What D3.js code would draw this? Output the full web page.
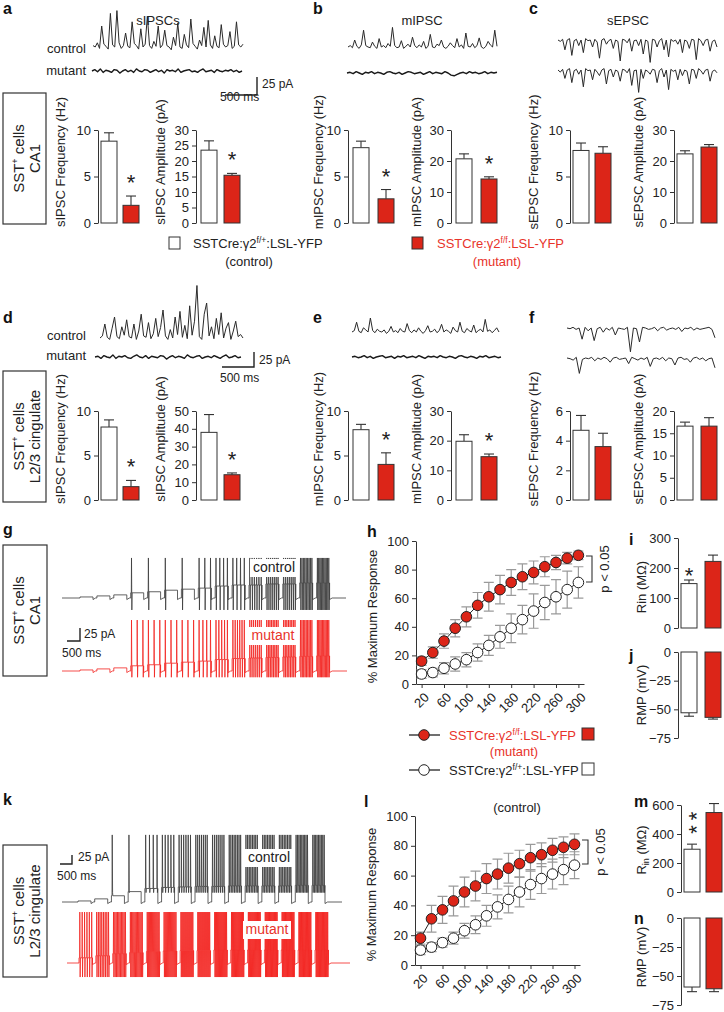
<!DOCTYPE html>
<html><head><meta charset="utf-8">
<script src="https://cdn.jsdelivr.net/npm/d3@7"></script>
<style>
body{margin:0;background:#fff;}
svg{display:block;font-family:"Liberation Sans",Arial,sans-serif;}
</style></head><body>
<svg id="fig" width="724" height="1012"></svg>
<script>
// ---------------- DATA ----------------
const barMeasures = ["sIPSC Frequency (Hz)","sIPSC Amplitude (pA)","mIPSC Frequency (Hz)","mIPSC Amplitude (pA)","sEPSC Frequency (Hz)","sEPSC Amplitude (pA)"];
const ca1Control    = [8.8, 23.5, 8.1, 20.7, 7.8, 22.3];
const ca1ControlErr = [0.9, 3.0, 0.7, 1.6, 0.8, 1.0];
const ca1Mutant     = [1.9, 15.4, 2.6, 14.2, 7.5, 24.5];
const ca1MutantErr  = [1.0, 0.6, 1.0, 0.7, 0.7, 0.8];
const ca1Sig        = [true, true, true, true, false, false];
const ca1Ticks = [[0,5,10],[0,5,10,15,20,25,30],[0,5,10],[0,10,20,30],[0,5,10],[0,10,20,30]];

const cingControl    = [8.2, 38, 7.9, 19.8, 4.7, 16.6];
const cingControlErr = [0.8, 10, 0.6, 2.2, 1.0, 0.9];
const cingMutant     = [1.5, 14.2, 4.0, 14.6, 3.6, 16.6];
const cingMutantErr  = [0.7, 1.0, 1.3, 0.9, 0.9, 1.9];
const cingSig        = [true, true, true, true, false, false];
const cingTicks = [[0,5,10],[0,10,20,30,40,50],[0,5,10],[0,10,20,30],[0,2,4,6],[0,5,10,15,20]];

const currentSteps = [20,40,60,80,100,120,140,160,180,200,220,240,260,280,300];
const stepTickLabels = [20,60,100,140,180,220,260,300];
const respTicks = [0,20,40,60,80,100];

const ca1RespMutant     = [16,22,30,39,47,55,61,66,71,75,78,82,85,88,90];
const ca1RespMutantErr  = [3,4,5,6,7,9,10,10,9,9,8,7,5,4,3];
const ca1RespControl    = [7,8,11,14,17,22,27,33,39,45,51,57,61,66,71];
const ca1RespControlErr = [3,3,4,5,5,6,7,8,10,10,12,12,12,13,11];

const cingRespMutant     = [18,31,37,43,49,53,58,61,65,68,72,74,77,79,81];
const cingRespMutantErr  = [4,9,9,10,10,10,10,10,10,9,9,8,8,7,7];
const cingRespControl    = [10,12,15,18,23,27,33,39,44,49,54,58,61,64,67];
const cingRespControlErr = [3,3,3,4,5,6,7,8,9,10,10,10,10,10,9];

const rinCa1 = [148, 222],   rinCa1Err = [12, 21],   rinTicksCa1 = [0,100,200,300];
const rmpCa1 = [-53, -57],   rmpCa1Err = [3, 1.5];
const rinCing = [295, 548],  rinCingErr = [35, 62],  rinTicksCing = [0,200,400,600];
const rmpCing = [-59.5, -61], rmpCingErr = [4, 2.5];
const rmpTicks = [0,-25,-50,-75];

// spontaneous current traces (pA, sampled)
const sipscCa1Ctrl = [2,0,6,-2,30,4,1,-3,48,3,0,52,6,-2,2,20,1,-1,36,5,2,-3,26,0,4,44,2,-2,8,1,30,-1,3,24,2,0,-4,14,2,34,0,-2,18,3,-1,40,5,1,-3,10,2,28,0,38,3,-2,16,1,-1,32,4,0,2,22,-2,1,36,3,0,4];
const sipscCa1Mut  = [0,2,-1,3,-2,1,0,-2,2,1,-3,0,2,-1,1,-2,3,0,-1,2,1,-2,0,2,-1,1,-3,2,0,1,-1,3,-2,0,1,2,-1,0,-2,1,3,-1,0,1,-2,2,0,-1,1,0,2,-1,1,-2,0];
const mipscCa1Ctrl = [0,2,-1,10,1,-2,3,24,2,0,-1,7,1,-2,12,0,2,-1,5,1,28,2,-1,0,9,-2,1,4,0,14,2,-1,3,0,8,-2,1,18,0,-1,4,2,10,0,-2,1,6,2,-1,12,0,3,-2,20,1,0,5,-1,2,13,0,-2,1,8,3,0,24,1];
const mipscCa1Mut  = [0,1,-1,2,0,-2,1,0,2,-1,1,0,-2,1,2,0,-1,1,-2,0,2,1,-1,0,1,-2,0,2,-1,1,0,-1,2,0,-3,-4,-2,0,1,-1,2,0,1,-1,0,2,-1,1,0,1];
const sepscCa1Ctrl = [0,-2,1,-14,0,2,-22,-1,1,-8,0,-18,2,-1,0,-10,1,-3,-26,0,2,-6,-1,1,-12,0,-2,-30,1,0,-4,2,-16,-1,0,-8,1,-20,0,-2,-32,1,0,-10,-1,2,-14,0,-24,1,-2,0,-6,1,-18,0,-2,-12,1,0,-28,2,-1,-8,0,1,-16,-2,0,-10];
const sepscCa1Mut  = [0,-3,1,-12,0,2,-18,-1,1,-6,0,-24,2,-1,0,-14,1,-3,-8,0,2,-20,-1,1,-10,0,-2,-16,1,0,-4,2,-22,-1,0,-32,1,-12,0,-2,-6,1,0,-18,-1,2,-10,0,-28,1,-2,0,-14,1,-8,0,-2,-20,1,0,-12,2,-1,-6,0,1,-16,-2,0,-4];
const sipscCingCtrl = [0,3,20,1,-2,14,30,2,-1,16,4,26,2,0,20,-2,10,34,3,1,22,-1,6,28,2,15,40,3,-2,12,0,30,5,38,1,18,-1,46,4,24,75,2,-2,34,50,3,16,-1,28,5,36,0,14,22,-2,10,24,2,5,0];
const sipscCingMut  = [0,1,-2,2,0,-1,3,-2,1,0,2,-1,-2,1,3,0,-1,2,-2,1,0,-1,2,1,-3,0,2,-1,1,0,-2,3,0,-1,1,2,-2,0,1,-1,2,0,-2,1,3,-1,0,2,-1,0];
const mipscCingCtrl = [0,2,14,1,-1,6,3,0,20,2,-1,4,1,0,3,-2,1,8,0,2,-1,5,1,0,12,2,-1,3,0,6,1,-2,2,9,0,1,4,-1,2,11,0,3,1,-2,7,2,0,14,1,-1,5,2,0,10,-1,2,4,0,18,1,3,-1,2,6,0];
const mipscCingMut  = [0,1,-1,0,2,-1,1,-2,0,1,2,-1,0,1,-2,1,0,2,-1,0,1,-1,2,0,-2,1,0,1,-1,2,0,-1,1,0,-2,1,2,0,-1,1,0,-2,1,0,2,-1,0,1,-1,0];
const sepscCingCtrl = [0,-1,1,-2,0,-16,1,-4,0,-18,-1,1,-6,0,-3,1,-10,0,-1,-2,1,-34,0,-1,-20,1,0,-2,-1,1,-4,0,1,-3,-1,0,-2,1,-5,0,-1,1,-3,0,-2,-1,0,1,-2,-14];
const sepscCingMut  = [0,-1,-3,1,-22,-2,0,-1,1,-4,0,-2,1,-1,-6,0,1,-2,-1,0,-8,1,-1,-3,0,-2,1,-12,-1,0,-2,1,-4,0,-1,-10,0,1,-2,-1,-6,0,1,-2,0,-4,-1,0,-14];

// current-step firing traces: plateau (pA units) and spike counts per step
const gCtrlPlateau = [2,4,6,10,12,15,17,19,23,25,25,27,27,29,29];
const gCtrlSpikes  = [0,0,0,1,1,1,1,3,4,4,6,7,7,9,10];
const gMutPlateau  = [2,4,6,10,12,15,17,19,22,24,25,26,27,28,29];
const gMutSpikes   = [0,0,0,3,3,3,3,4,5,6,7,8,8,9,10];
const kCtrlPlateau = [2,6,12,20,26,28,29,30,30,31,31,31,31,32,32];
const kCtrlSpikes  = [0,0,1,1,4,5,6,7,7,8,8,8,8,9,9];
const kMutPlateau  = [10,14,18,20,22,23,24,24,25,25,25,25,25,25,25];
const kMutSpikes   = [6,8,10,11,12,12,13,13,14,14,14,15,15,15,15];

// ---------------- DRAWING ----------------
const svg = d3.select("#fig");
const RED = "#dc2518", RED_TXT = "#e8332a", TRACE_RED = "#f2221e", INK = "#222";

function text(x, y, s, o = {}) {
  const t = svg.append("text").attr("x", x).attr("y", y).text(s)
    .attr("font-size", o.size || 13).attr("fill", o.fill || INK)
    .attr("text-anchor", o.anchor || "start");
  if (o.weight) t.attr("font-weight", o.weight);
  return t;
}
function rtext(x, y, s, o = {}) {
  const t = svg.append("text").attr("transform", `translate(${x},${y}) rotate(${o.rot || -90})`)
    .attr("text-anchor", "middle").attr("dy", o.dy || "0.35em")
    .attr("font-size", o.size || 13).attr("fill", o.fill || INK).text(s);
  return t;
}
function styleAxis(ax, size = 13) {
  ax.select(".domain").attr("stroke", "#333");
  ax.selectAll(".tick line").attr("stroke", "#333");
  ax.selectAll(".tick text").attr("font-size", size).attr("fill", INK)
    .attr("font-family", '"Liberation Sans",Arial,sans-serif');
}

// panel letters
[["a",3,14],["b",313,14],["c",529,14],["d",3,323],["e",313,323],["f",529,323],
 ["g",3,535],["h",367,537],["i",629,545],["j",629,661],["k",3,805],["l",364,807],["m",634,807],["n",634,924]]
 .forEach(([s,x,y]) => text(x, y, s, {size: 16, weight: "bold", fill: "#111"}));

// cell-type boxes
function cellBox(x, y, w, h, line2) {
  svg.append("rect").attr("x", x).attr("y", y).attr("width", w).attr("height", h)
    .attr("fill", "none").attr("stroke", "#333").attr("stroke-width", 1.2);
  const cy = y + h / 2;
  const t = svg.append("text").attr("transform", `translate(${x + 21},${cy}) rotate(-90)`)
    .attr("text-anchor", "middle").attr("font-size", 15).attr("fill", INK);
  t.append("tspan").text("SST");
  t.append("tspan").attr("dy", -6).attr("font-size", 9).text("+");
  t.append("tspan").attr("dy", 6).text(" cells");
  rtext(x + 32, cy, line2, {size: 15});
}
cellBox(3, 93, 43, 131, "CA1");
cellBox(3, 371, 43, 131, "L2/3 cingulate");
cellBox(3, 545, 44, 131, "CA1");
cellBox(3, 845, 44, 132, "L2/3 cingulate");

// spontaneous traces
function trace(vals, x0, x1, base, color, pxPerUnit, sw) {
  const x = d3.scaleLinear().domain([0, vals.length - 1]).range([x0, x1]);
  const y = d3.scaleLinear().domain([0, 1]).range([base, base - pxPerUnit]);
  svg.append("path").attr("d", d3.line().x((d, i) => x(i)).y(d => y(d))(vals))
    .attr("fill", "none").attr("stroke", color).attr("stroke-width", sw || 1).attr("stroke-linejoin", "round");
}
const TPX = 0.7;
trace(sipscCa1Ctrl, 93, 243, 47, "#2a2a2a", TPX);
trace(sipscCa1Mut, 92, 242, 71, "#1a1a1a", TPX, 1.4);
trace(mipscCa1Ctrl, 348, 497, 47, "#2a2a2a", TPX);
trace(mipscCa1Mut, 347, 497, 73, "#1a1a1a", TPX, 1.4);
trace(sepscCa1Ctrl, 558, 717, 40, "#2a2a2a", TPX);
trace(sepscCa1Mut, 558, 717, 70, "#2a2a2a", TPX);
trace(sipscCingCtrl, 100, 243, 338, "#2a2a2a", TPX);
trace(sipscCingMut, 95, 241, 357, "#1a1a1a", TPX, 1.4);
trace(mipscCingCtrl, 352, 499, 332, "#2a2a2a", TPX);
trace(mipscCingMut, 352, 501, 357, "#1a1a1a", TPX, 1.4);
trace(sepscCingCtrl, 567, 715, 328, "#2a2a2a", TPX);
trace(sepscCingMut, 567, 715, 358, "#2a2a2a", TPX);

text(158, 25, "sIPSCs", {anchor: "middle"});
text(422, 25, "mIPSC", {anchor: "middle"});
text(628, 25, "sEPSC", {anchor: "middle"});
text(86, 53, "control", {anchor: "end"});
text(86, 75, "mutant", {anchor: "end"});
text(86, 340, "control", {anchor: "end"});
text(86, 360, "mutant", {anchor: "end"});

function scaleBar(xv, yTop, yBot, xLeft, pa, pax, pay, ms, msx, msy, size) {
  svg.append("path").attr("d", `M${xv},${yTop}V${yBot}H${xLeft}`).attr("fill", "none")
    .attr("stroke", "#222").attr("stroke-width", 1.4);
  text(pax, pay, pa, {size});
  text(msx, msy, ms, {size});
}
scaleBar(257, 77, 95, 225, "25 pA", 262, 88, "500 ms", 220, 101, 12);
scaleBar(254, 352, 367, 222, "25 pA", 259, 364, "500 ms", 220, 382, 12);
scaleBar(80, 628, 641, 67, "25 pA", 84, 638, "500 ms", 62, 657, 12);
scaleBar(72, 855, 864, 60, "25 pA", 78, 861, "500 ms", 57, 880, 12);

// bar charts
const colsRow = [
  {ax: 98,  wx: 101, rx: 123, lx: 60},
  {ax: 196, wx: 201, rx: 224, lx: 160},
  {ax: 348, wx: 353, rx: 378, lx: 318},
  {ax: 451, wx: 456, rx: 481, lx: 416},
  {ax: 570, wx: 573, rx: 595, lx: 533},
  {ax: 674, wx: 677, rx: 701, lx: 638}
];
const BW = 16;
const fmt = d3.format("d");

function barPair(p) {
  const lo = d3.min(p.ticks), hi = d3.max(p.ticks);
  const y = d3.scaleLinear().domain([lo, hi]).range([p.pxLo, p.pxHi]);
  const ax = svg.append("g").attr("transform", `translate(${p.ax},0)`)
    .call(d3.axisLeft(y).tickValues(p.ticks).tickFormat(fmt).tickSize(4).tickSizeOuter(0).tickPadding(3));
  styleAxis(ax);
  const fills = ["#fff", RED];
  [p.c, p.m].forEach((v, i) => {
    const x0 = i === 0 ? p.wx : p.rx;
    const top = y(v), zero = y(0);
    const ev = v + Math.sign(v) * [p.ce, p.me][i];
    const cx = x0 + BW / 2;
    svg.append("line").attr("x1", cx).attr("x2", cx).attr("y1", top).attr("y2", y(ev))
      .attr("stroke", "#333").attr("stroke-width", 1.1);
    svg.append("line").attr("x1", cx - 5).attr("x2", cx + 5).attr("y1", y(ev)).attr("y2", y(ev))
      .attr("stroke", "#333").attr("stroke-width", 1.1);
    svg.append("rect").attr("x", x0).attr("y", Math.min(top, zero)).attr("width", BW)
      .attr("height", Math.abs(zero - top)).attr("fill", fills[i]).attr("stroke", "#333").attr("stroke-width", 1);
  });
  if (p.sig) text(p.rx + BW / 2, y(p.m + p.me) - 6, "*", {size: 22, anchor: "middle"});
  if (p.label) rtext(p.lx, p.ly, p.label);
  return y;
}

barMeasures.forEach((lab, i) => {
  const c = colsRow[i];
  barPair({ticks: ca1Ticks[i], pxLo: 223, pxHi: 130, ax: c.ax, wx: c.wx, rx: c.rx,
    c: ca1Control[i], ce: ca1ControlErr[i], m: ca1Mutant[i], me: ca1MutantErr[i], sig: ca1Sig[i],
    label: lab, lx: c.lx, ly: 162});
  barPair({ticks: cingTicks[i], pxLo: 500, pxHi: 411, ax: c.ax, wx: c.wx, rx: c.rx,
    c: cingControl[i], ce: cingControlErr[i], m: cingMutant[i], me: cingMutantErr[i], sig: cingSig[i],
    label: lab, lx: c.lx, ly: 439});
});

// genotype legend text
function geno(x, y, sup, color, anchor) {
  const t = svg.append("text").attr("x", x).attr("y", y).attr("font-size", 13).attr("fill", color)
    .attr("text-anchor", anchor || "start");
  t.append("tspan").text("SSTCre:γ2");
  t.append("tspan").attr("dy", -5).attr("font-size", 8.5).text(sup);
  t.append("tspan").attr("dy", 5).text(":LSL-YFP");
  return t;
}
svg.append("rect").attr("x", 169).attr("y", 237).attr("width", 11).attr("height", 12).attr("fill", "#fff").attr("stroke", "#333");
geno(193, 248, "f/+", INK);
text(249, 266, "(control)", {anchor: "middle"});
svg.append("rect").attr("x", 412).attr("y", 237).attr("width", 11).attr("height", 12).attr("fill", RED).attr("stroke", "#333");
geno(437, 248, "f/f", RED_TXT);
text(497, 266, "(mutant)", {anchor: "middle", fill: RED_TXT});

// step / firing traces
function stepTrace(p) {
  const px = d3.scaleLinear().domain([currentSteps[0], currentSteps[currentSteps.length - 1]]).range([p.first, p.last]);
  const vy = d3.scaleLinear().domain([0, 1]).range([p.base, p.base - p.unit]);
  const pts = [[p.x0, vy(0)]];
  currentSteps.forEach((s, i) => {
    const xs = px(s), xe = xs + p.pw, pl = p.plateau[i], n = p.spikes[i];
    pts.push([xs, vy(0)], [xs, vy(pl)]);
    for (let j = 0; j < n; j++) {
      const sx = xs + 0.8 + j * (p.pw - 1.6) / Math.max(n - 1, 1);
      pts.push([sx - 0.2, vy(pl)], [sx, vy(p.top)], [sx + 0.35, vy(p.trough)], [sx + 0.6, vy(pl)]);
    }
    pts.push([xe, vy(pl)], [xe, vy(-3)], [xe + 2.5, vy(0)]);
  });
  pts.push([p.x1, vy(0)]);
  svg.append("path").attr("d", d3.line()(pts)).attr("fill", "none")
    .attr("stroke", p.color).attr("stroke-width", p.sw || 0.8).attr("stroke-linejoin", "round");
}
const U = 0.52;
stepTrace({x0: 62, x1: 346, base: 598, first: 80, last: 316.6, pw: 13, plateau: gCtrlPlateau, spikes: gCtrlSpikes, top: 77, trough: -23, unit: U, color: "#3a3a3a"});
stepTrace({x0: 62, x1: 347, base: 671, first: 80, last: 316.6, pw: 13, plateau: gMutPlateau, spikes: gMutSpikes, top: 98, trough: -12, unit: U, color: TRACE_RED});
stepTrace({x0: 62, x1: 342, base: 902, first: 78, last: 312, pw: 13, plateau: kCtrlPlateau, spikes: kCtrlSpikes, top: 129, trough: 18, unit: U, color: "#3a3a3a"});
stepTrace({x0: 67, x1: 350, base: 963, first: 79, last: 315, pw: 13.5, plateau: kMutPlateau, spikes: kMutSpikes, top: 98, trough: -27, unit: U, color: TRACE_RED});

function boxLabel(x, y, s, color) {
  svg.append("rect").attr("x", x - 24).attr("y", y - 13).attr("width", 48).attr("height", 18).attr("fill", "#fff");
  text(x, y, s, {anchor: "middle", size: 14, fill: color});
}
boxLabel(274, 572, "control", INK);
boxLabel(273, 640, "mutant", RED_TXT);
boxLabel(269, 862, "control", INK);
boxLabel(267, 934, "mutant", RED_TXT);

// response curves
function respChart(p) {
  const x = d3.scaleLinear().domain([10, 310]).range([p.xl, p.xr]);
  const y = d3.scaleLinear().domain([0, 100]).range([p.y0, p.y100]);
  const ay = svg.append("g").attr("transform", `translate(${p.xl},0)`)
    .call(d3.axisLeft(y).tickValues(respTicks).tickSize(4).tickSizeOuter(0).tickPadding(3));
  styleAxis(ay);
  const axb = svg.append("g").attr("transform", `translate(0,${p.y0})`)
    .call(d3.axisBottom(x).tickValues(stepTickLabels).tickSize(4).tickSizeOuter(0).tickFormat(() => ""));
  styleAxis(axb);
  stepTickLabels.forEach(v => {
    svg.append("text").attr("transform", `translate(${x(v) + 5},${p.y0 + 11}) rotate(-45)`)
      .attr("text-anchor", "end").attr("dy", "0.35em").attr("font-size", 13).attr("fill", INK).text(v);
  });
  rtext(p.xl - 44, (p.y0 + p.y100) / 2 + 4, "% Maximum Response");
  [[p.m, p.me], [p.c, p.ce]].forEach(([vals, errs]) => {
    vals.forEach((v, i) => {
      const cx = x(currentSteps[i]);
      const a = y(v + errs[i]), b = y(v - errs[i]);
      svg.append("path").attr("d", `M${cx},${a}V${b}M${cx - 5},${a}H${cx + 5}M${cx - 5},${b}H${cx + 5}`)
        .attr("stroke", "#9a9a9a").attr("stroke-width", 1.2).attr("fill", "none");
    });
  });
  [[p.c, "#fff"], [p.m, RED]].forEach(([vals, fill]) => {
    svg.append("path").attr("d", d3.line().x((d, i) => x(currentSteps[i])).y(d => y(d))(vals))
      .attr("fill", "none").attr("stroke", "#222").attr("stroke-width", 1);
  });
  [[p.c, "#fff"], [p.m, RED]].forEach(([vals, fill]) => {
    vals.forEach((v, i) => svg.append("circle").attr("cx", x(currentSteps[i])).attr("cy", y(v)).attr("r", 5.3)
      .attr("fill", fill).attr("stroke", "#222").attr("stroke-width", 1));
  });
  // significance bracket
  const bx = p.xr + 8;
  svg.append("path").attr("d", `M${bx - 6},${p.bTop}H${bx}V${p.bBot}H${bx - 6}`)
    .attr("fill", "none").attr("stroke", "#333").attr("stroke-width", 1.1);
  rtext(bx + 12, (p.bTop + p.bBot) / 2, "p < 0.05");
}
respChart({xl: 416, xr: 584, y0: 684, y100: 541, m: ca1RespMutant, me: ca1RespMutantErr, c: ca1RespControl, ce: ca1RespControlErr, bTop: 556, bBot: 582});
respChart({xl: 415, xr: 580, y0: 965, y100: 816, m: cingRespMutant, me: cingRespMutantErr, c: cingRespControl, ce: cingRespControlErr, bTop: 840, bBot: 864});

// legend for response curves
function lineLegend(y, fill, sup, color, sq) {
  svg.append("line").attr("x1", 409).attr("x2", 440).attr("y1", y).attr("y2", y).attr("stroke", "#222").attr("stroke-width", 1.3);
  svg.append("circle").attr("cx", 424).attr("cy", y).attr("r", 5.3).attr("fill", fill).attr("stroke", "#222");
  geno(449, y + 5, sup, color);
  svg.append("rect").attr("x", 582).attr("y", y - 7).attr("width", 12).attr("height", 12).attr("fill", sq).attr("stroke", "#333");
}
lineLegend(735, RED, "f/f", RED_TXT, RED);
text(514, 756, "(mutant)", {anchor: "middle", fill: RED_TXT});
lineLegend(770, "#fff", "f/+", INK, "#fff");
text(517, 812, "(control)", {anchor: "middle"});

// Rin / RMP small bar charts
function smallBars(p) {
  const y = d3.scaleLinear().domain([d3.min(p.ticks), d3.max(p.ticks)]).range([p.pxLo, p.pxHi]);
  const ax = svg.append("g").attr("transform", `translate(${p.ax},0)`)
    .call(d3.axisLeft(y).tickValues(p.ticks).tickFormat(fmt).tickSize(4).tickSizeOuter(0).tickPadding(3));
  styleAxis(ax);
  p.vals.forEach((v, i) => {
    const x0 = p.xs[i], cx = x0 + p.bw / 2;
    const ev = v + Math.sign(v) * p.errs[i];
    svg.append("line").attr("x1", cx).attr("x2", cx).attr("y1", y(v)).attr("y2", y(ev)).attr("stroke", "#333").attr("stroke-width", 1.1);
    svg.append("line").attr("x1", cx - 5).attr("x2", cx + 5).attr("y1", y(ev)).attr("y2", y(ev)).attr("stroke", "#333").attr("stroke-width", 1.1);
    svg.append("rect").attr("x", x0).attr("y", Math.min(y(v), y(0))).attr("width", p.bw)
      .attr("height", Math.abs(y(v) - y(0))).attr("fill", i === 0 ? "#fff" : RED).attr("stroke", "#333");
  });
  return y;
}
const yi = smallBars({ticks: rinTicksCa1, pxLo: 628, pxHi: 538, ax: 678, xs: [681, 705], bw: 16, vals: rinCa1, errs: rinCa1Err});
text(689, yi(rinCa1[0] + rinCa1Err[0]) + 3, "*", {size: 22, anchor: "middle"});
rtext(641, 587, "Rin (MΩ)");
smallBars({ticks: rmpTicks, pxLo: 738, pxHi: 652, ax: 678, xs: [681, 705], bw: 16, vals: rmpCa1, errs: rmpCa1Err});
rtext(641, 695, "RMP (mV)");
const ym = smallBars({ticks: rinTicksCing, pxLo: 892, pxHi: 805, ax: 681, xs: [684, 706], bw: 16, vals: rinCing, errs: rinCingErr});
// two stacked stars as one rotated text
rtext(691, ym(rinCing[0] + rinCingErr[0]) - 24, "**", {size: 22, dy: "0.6em"}).attr("letter-spacing", 5);
{
  const t = svg.append("text").attr("transform", "translate(641,850) rotate(-90)").attr("text-anchor", "middle")
    .attr("dy", "0.35em").attr("font-size", 13).attr("fill", INK);
  t.append("tspan").text("R");
  t.append("tspan").attr("dy", 3).attr("font-size", 9).text("in");
  t.append("tspan").attr("dy", -3).text(" (MΩ)");
}
smallBars({ticks: rmpTicks, pxLo: 1005, pxHi: 918, ax: 681, xs: [684, 706], bw: 16, vals: rmpCing, errs: rmpCingErr});
rtext(641, 957, "RMP (mV)");
</script></body></html>
